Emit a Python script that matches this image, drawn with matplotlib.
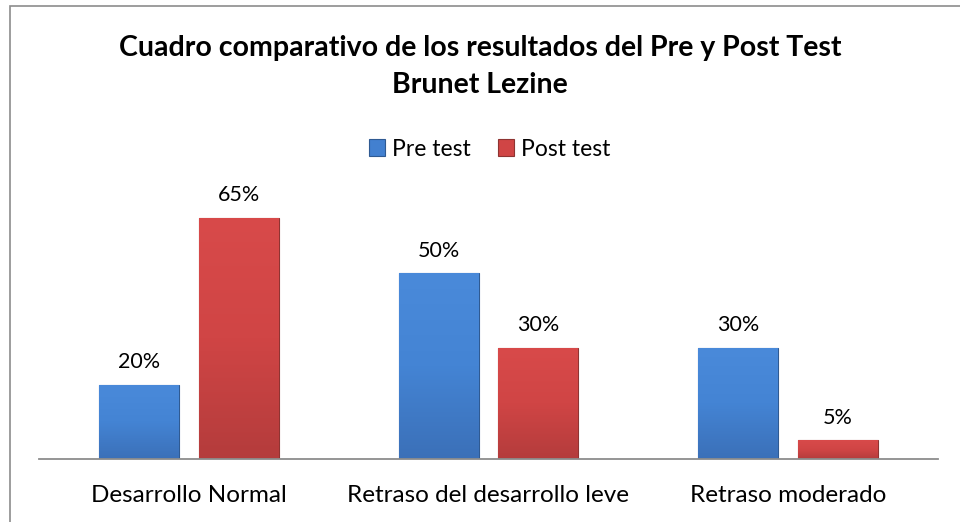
import matplotlib.pyplot as plt
import matplotlib.patches as mpatches
from matplotlib.colors import LinearSegmentedColormap
import numpy as np

categorias = ['Desarrollo Normal', 'Retraso del desarrollo leve', 'Retraso moderado']
pre_test = [20, 50, 30]
post_test = [65, 30, 5]
series = ['Pre test', 'Post test']

azul = '#4280D0'
rojo = '#D04545'
grad_azul = LinearSegmentedColormap.from_list('az', ['#3B70B8', '#4484D4', '#4A8ADA'])
grad_rojo = LinearSegmentedColormap.from_list('rj', ['#B43C3C', '#D04545', '#D84A4A'])

plt.rcParams['font.family'] = ['Lato', 'DejaVu Sans']

fig = plt.figure(figsize=(9.6, 5.22), dpi=100)
ax = fig.add_axes([39/960, 63/522, 899/960, 260/522])

# marco gris del grafico (sale por la derecha y abajo)
fig.patches.append(mpatches.Rectangle((9.5/960, -0.01), 1.0, 1 - 5.5/522 + 0.01,
                                      transform=fig.transFigure, fill=False,
                                      edgecolor='#8c8c8c', linewidth=1.2))

x = np.arange(len(categorias))
w = 80/300
b1 = ax.bar(x - 50/300, pre_test, w, color=azul, edgecolor='#2f5a92', linewidth=0.8, label=series[0])
b2 = ax.bar(x + 50/300, post_test, w, color=rojo, edgecolor='#8e3432', linewidth=0.8, label=series[1])

# degradado vertical suave dentro de cada barra
g = np.linspace(0, 1, 256).reshape(-1, 1)
for bars, cm in ((b1, grad_azul), (b2, grad_rojo)):
    for r in bars:
        x0, h = r.get_x(), r.get_height()
        im = ax.imshow(g, cmap=cm, origin='lower', aspect='auto',
                       extent=(x0, x0 + r.get_width(), 0, h), zorder=r.get_zorder() + 0.1)
        im.set_clip_path(r)

for bars in (b1, b2):
    for r in bars:
        ax.annotate(f'{r.get_height():.0f}%', (r.get_x() + r.get_width()/2, r.get_height()),
                    xytext=(0, 9), textcoords='offset points', ha='center', va='bottom',
                    fontsize=15.5, color='black')

ax.set_xlim(-0.5, 2.5)
ax.set_ylim(0, 70)
ax.set_xticks(x)
ax.set_xticklabels(categorias, fontsize=17.5)
ax.tick_params(axis='x', length=0, pad=19)
ax.set_yticks([])
for s in ['top', 'right', 'left']:
    ax.spines[s].set_visible(False)
ax.spines['bottom'].set_color('#8c8c8c')
ax.spines['bottom'].set_linewidth(1.3)
ax.spines['bottom'].set_zorder(5)

fig.text(480/960, 1 - 48/522, 'Cuadro comparativo de los resultados del Pre y Post Test',
         ha='center', va='center', fontsize=20.5, fontweight='bold')
fig.text(480/960, 1 - 85/522, 'Brunet Lezine', ha='center', va='center',
         fontsize=20.5, fontweight='bold')

fig.legend(loc='center', bbox_to_anchor=(490/960, 1 - 149/522), ncol=2, frameon=False,
           fontsize=16.5, handlelength=0.7, handleheight=0.7, handletextpad=0.3,
           columnspacing=1.2)

fig.savefig('out.png', dpi=100)
